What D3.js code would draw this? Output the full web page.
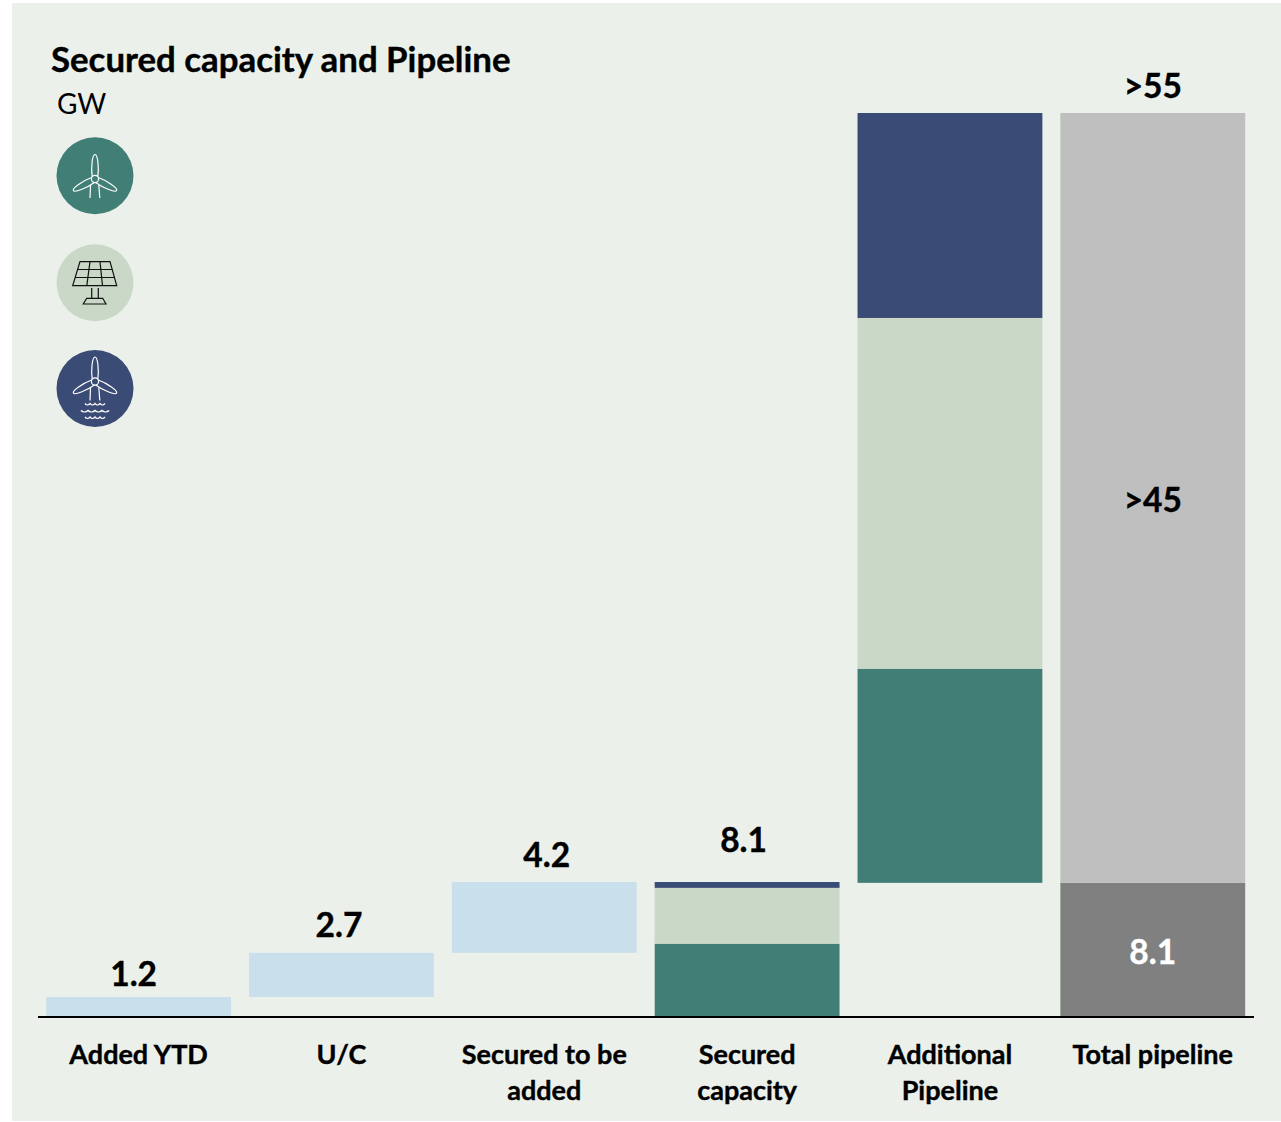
<!DOCTYPE html>
<html>
<head>
<meta charset="utf-8">
<script src="https://cdn.jsdelivr.net/npm/d3@7"></script>
<style>
	html,body{margin:0;padding:0;background:#fff;}
	svg{display:block;}
	text{font-family:Lato,"Open Sans",sans-serif;fill:#000;}
	.sTitle{font-size:34.8px;font-weight:700;stroke:#000;stroke-width:0.4px;}
	.sUnit{font-size:28px;font-weight:400;}
	.sCat{font-size:27px;font-weight:700;stroke:#000;stroke-width:0.4px;}
	.sVal{font-size:33.5px;font-weight:700;stroke:#000;stroke-width:0.4px;}
	.sValWhite{fill:#fff;stroke:#fff;}
</style>
</head>
<body>
<div id="idChart"></div>
<script>
var aCategories=["Added YTD","U/C","Secured to be added","Secured capacity","Additional Pipeline","Total pipeline"];
var aCatLines=[["Added YTD"],["U/C"],["Secured to be","added"],["Secured","capacity"],["Additional","Pipeline"],["Total pipeline"]];

// waterfall part, GW
var aFloatBase=[0,1.2,3.85];
var aFloatValues=[1.2,2.65,4.25];

// technology split, bottom to top: onshore, solar, offshore
var aSecuredSplit=[4.4,3.35,0.35];
var aAdditionalSplit=[12.85,21.05,12.3];

var aTotalSplit=[8.05,46.2];

var aValueLabels=["1.2","2.7","4.2","8.1"];
var sTotalTop=">55";
var sTotalMid=">45";
var sTotalLow="8.1";

var sFloatColor="#c9e0ec";
var aTechColors=["#417f76","#c9d8c7","#3a4b75"];
var aTotalColors=["#808080","#bfbfbf"];

var iWidth=1281;
var iHeight=1122;
var iBase=1017;

var myCanvas=d3.select("#idChart").append("svg")
	.attr("width",iWidth)
	.attr("height",iHeight);

myCanvas.append("rect")
	.attr("x",12).attr("y",3)
	.attr("width",iWidth-12).attr("height",1118)
	.attr("fill","#ebf0eb");

var xAxes=d3.scaleBand()
	.domain(aCategories)
	.range([46.2,1245.2])
	.paddingInner(0.0887)
	.paddingOuter(0);

var yAxes=d3.scaleLinear()
	.domain([0,54.25])
	.range([iBase,113]);

function barY(fFrom,fTo){return yAxes(fTo);}
function barH(fFrom,fTo){return yAxes(fFrom)-yAxes(fTo);}

// floating light blue bars
myCanvas.append("g").selectAll("rect")
	.data(aFloatValues)
	.join("rect")
	.attr("x",function(d,i){return xAxes(aCategories[i]);})
	.attr("y",function(d,i){return barY(aFloatBase[i],aFloatBase[i]+d);})
	.attr("width",xAxes.bandwidth())
	.attr("height",function(d,i){return barH(aFloatBase[i],aFloatBase[i]+d);})
	.attr("fill",sFloatColor);

function drawStack(sCat,aValues,aColors,fStart)
{
	var fSum=fStart;
	aValues.forEach(function(fValue,i){
		myCanvas.append("rect")
			.attr("x",xAxes(sCat))
			.attr("y",barY(fSum,fSum+fValue))
			.attr("width",xAxes.bandwidth())
			.attr("height",barH(fSum,fSum+fValue))
			.attr("fill",aColors[i]);
		fSum+=fValue;
	});
}

drawStack(aCategories[3],aSecuredSplit,aTechColors,0);
drawStack(aCategories[4],aAdditionalSplit,aTechColors,aTotalSplit[0]);
drawStack(aCategories[5],aTotalSplit,aTotalColors,0);

// baseline
myCanvas.append("line")
	.attr("x1",38).attr("x2",1254)
	.attr("y1",iBase).attr("y2",iBase)
	.attr("stroke","#000")
	.attr("stroke-width",2);

// category labels through the axis, wrapped by hand
var myAxis=myCanvas.append("g")
	.attr("transform","translate(0,"+iBase+")")
	.call(d3.axisBottom(xAxes).tickSize(0));
myAxis.select(".domain").remove();
myAxis.selectAll("text")
	.attr("class","sCat")
	.attr("y",0)
	.attr("dy",null)
	.each(function(sCat){
		var myText=d3.select(this);
		myText.text(null);
		aCatLines[aCategories.indexOf(sCat)].forEach(function(sLine,i){
			myText.append("tspan")
				.attr("x",0)
				.attr("y",47+i*36)
				.text(sLine);
		});
	});

// value labels
var aValueNudge=[-5,-2.5,2.5,-3.5];
var aValueY=[986,937,867,852];
myCanvas.append("g").selectAll("text")
	.data(aValueLabels)
	.join("text")
	.attr("class","sVal")
	.attr("text-anchor","middle")
	.attr("x",function(d,i){return xAxes(aCategories[i])+xAxes.bandwidth()/2+aValueNudge[i];})
	.attr("y",function(d,i){return aValueY[i];})
	.text(function(d){return d;});

var xTotal=xAxes(aCategories[5])+xAxes.bandwidth()/2;
myCanvas.append("text").attr("class","sVal").attr("text-anchor","middle")
	.attr("x",xTotal).attr("y",98).text(sTotalTop);
myCanvas.append("text").attr("class","sVal").attr("text-anchor","middle")
	.attr("x",xTotal).attr("y",512).text(sTotalMid);
myCanvas.append("text").attr("class","sVal sValWhite").attr("text-anchor","middle")
	.attr("x",xTotal).attr("y",964).text(sTotalLow);

// title
myCanvas.append("text").attr("class","sTitle").attr("x",51).attr("y",72).text("Secured capacity and Pipeline");
myCanvas.append("text").attr("class","sUnit").attr("x",57).attr("y",114).text("GW");

// legend icons
function drawTurbine(myG,sStroke)
{
	var sBlade="M-2.8,-2.2C-4.2,-12,-2.6,-24.5,0,-24.5C2.6,-24.5,4.2,-12,2.8,-2.2";
	[0,118,-118].forEach(function(iAngle){
		myG.append("path")
			.attr("d",sBlade)
			.attr("transform","rotate("+iAngle+")")
			.attr("fill","none")
			.attr("stroke",sStroke)
			.attr("stroke-width",1.2);
	});
	myG.append("circle").attr("r",3.6).attr("fill","none").attr("stroke",sStroke).attr("stroke-width",1.2);
	myG.append("path")
		.attr("d","M-4.5,6L-5,19M3.8,6L4.8,19")
		.attr("fill","none")
		.attr("stroke",sStroke)
		.attr("stroke-width",1.2);
}

myCanvas.append("circle").attr("cx",95).attr("cy",175.7).attr("r",38.5).attr("fill",aTechColors[0]);
drawTurbine(myCanvas.append("g").attr("transform","translate(95,179)"),"#fff");

myCanvas.append("circle").attr("cx",95).attr("cy",282.7).attr("r",38.5).attr("fill",aTechColors[1]);
var mySolar=myCanvas.append("g")
	.attr("fill","none")
	.attr("stroke","#111")
	.attr("stroke-width",1.2);
mySolar.append("path").attr("d","M80,261.7H110L116.7,285.7H72.7Z");
mySolar.append("path").attr("d","M77.7,269.5H112.2M75.2,277.5H114.5");
mySolar.append("path").attr("d","M90,261.7L86.8,285.7M100,261.7L102.5,285.7");
mySolar.append("path").attr("d","M91.7,288V298M98.3,288V298");
mySolar.append("path").attr("d","M86.7,298.3H102.7L106,304H83.3Z");

myCanvas.append("circle").attr("cx",95).attr("cy",388.5).attr("r",38.5).attr("fill",aTechColors[2]);
drawTurbine(myCanvas.append("g").attr("transform","translate(95,381.5)"),"#fff");
[[85,403.5,1],[81,410.5,1.4],[85,417,1]].forEach(function(aWave){
	myCanvas.append("path")
		.attr("d","M0,0q2.5,3,5,0q2.5,3,5,0q2.5,3,5,0q2.5,3,5,0")
		.attr("transform","translate("+aWave[0]+","+aWave[1]+") scale("+aWave[2]+",1)")
		.attr("fill","none")
		.attr("stroke","#fff")
		.attr("stroke-width",1.2);
});
</script>
</body>
</html>
